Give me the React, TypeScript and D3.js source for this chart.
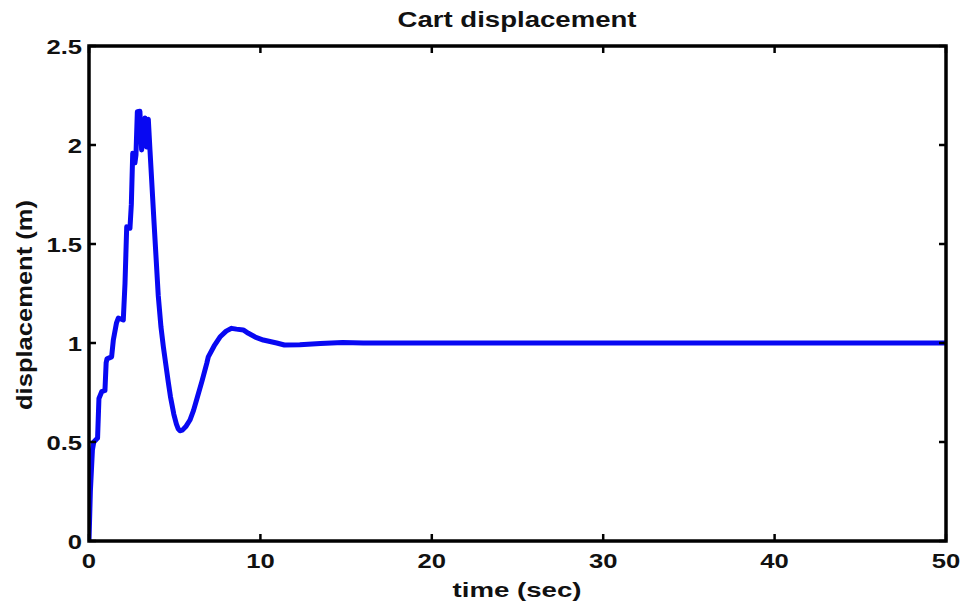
import React from "react";
import * as d3 from "d3";

// Cart displacement response (time in seconds, displacement in metres)
const timeSec = [
  0, 0.08, 0.2, 0.28, 0.5, 0.58, 0.74, 0.93, 1.0, 1.05, 1.32, 1.42, 1.6, 1.71,
  2.0, 2.1, 2.2, 2.39, 2.47, 2.55, 2.68, 2.74, 2.82, 2.97, 3.07, 3.17, 3.27,
  3.37, 3.46, 3.56, 3.8, 4.04, 4.2, 4.34, 4.5, 4.63, 4.75, 4.95, 5.1, 5.2,
  5.31, 5.45, 5.65, 5.89, 6.1, 6.3, 6.6, 6.87, 6.96, 7.3, 7.64, 8.0, 8.32,
  8.6, 9.0, 9.3, 9.7, 10.17, 10.95, 11.4, 12.3, 13.5, 14.8, 16, 20, 30, 40, 50,
];
const displacement = [
  0, 0.25, 0.46, 0.5, 0.52, 0.72, 0.754, 0.76, 0.9, 0.92, 0.93, 1.015, 1.1,
  1.126, 1.116, 1.3, 1.587, 1.58, 1.7, 1.958, 1.91, 1.95, 2.168, 2.17, 1.975,
  2.05, 2.136, 1.99, 2.13, 1.97, 1.6, 1.24, 1.08, 0.98, 0.88, 0.8, 0.73, 0.64,
  0.59, 0.567, 0.557, 0.56, 0.578, 0.611, 0.66, 0.72, 0.81, 0.897, 0.93, 0.985,
  1.03, 1.06, 1.074, 1.07, 1.066, 1.049, 1.03, 1.015, 1.0, 0.99, 0.991, 0.998,
  1.003, 1.0, 1.0, 1.0, 1.0, 1.0,
];

const xTicks = [0, 10, 20, 30, 40, 50];
const yTicks = [0, 0.5, 1, 1.5, 2, 2.5];
const yTickLabels = ["0", "0.5", "1", "1.5", "2", "2.5"];

const W = 968;
const H = 607;
const left = 89;
const right = 946;
const top = 46;
const bottom = 541;
const FONT = "'Liberation Sans', Arial, Helvetica, sans-serif";
const STRETCH = 1.22;

export default function App() {
  const x = d3.scaleLinear().domain([0, 50]).range([left, right]);
  const y = d3.scaleLinear().domain([0, 2.5]).range([bottom, top]);

  const pts = timeSec.map((t, i) => [t, displacement[i]] as [number, number]);
  const line = d3
    .line<[number, number]>()
    .x((d) => x(d[0]))
    .y((d) => y(d[1]))
    .curve(d3.curveLinear);

  const tickLen = 7;

  return (
    <svg
      width={W}
      height={H}
      style={{ position: "absolute", left: 0, top: 0, background: "#fff" }}
      fontFamily={FONT}
      fontWeight="bold"
    >
      <rect width={W} height={H} fill="#fff" />

      {/* data line, clipped to the axes box */}
      <defs>
        <clipPath id="plotClip">
          <rect x={left} y={top} width={right - left} height={bottom - top} />
        </clipPath>
      </defs>
      <path
        d={line(pts) || ""}
        fill="none"
        stroke="#0808f2"
        strokeWidth={5}
        strokeLinejoin="round"
        strokeLinecap="round"
        clipPath="url(#plotClip)"
      />

      {/* ticks on all four sides */}
      {xTicks.map((t) => (
        <g key={"xt" + t} stroke="#000" strokeWidth={2.5}>
          <line x1={x(t)} x2={x(t)} y1={bottom} y2={bottom - tickLen} />
          <line x1={x(t)} x2={x(t)} y1={top} y2={top + tickLen} />
        </g>
      ))}
      {yTicks.map((v) => (
        <g key={"yt" + v} stroke="#000" strokeWidth={2.5}>
          <line x1={left} x2={left + tickLen} y1={y(v)} y2={y(v)} />
          <line x1={right} x2={right - tickLen} y1={y(v)} y2={y(v)} />
        </g>
      ))}

      {/* axes box */}
      <rect
        x={left}
        y={top}
        width={right - left}
        height={bottom - top}
        fill="none"
        stroke="#000"
        strokeWidth={3.5}
      />

      {/* tick labels */}
      {xTicks.map((t) => (
        <g key={"xl" + t} transform={`translate(${x(t)},${568}) scale(${STRETCH},1)`}>
          <text textAnchor="middle" fontSize={21} fill="#111">
            {t}
          </text>
        </g>
      ))}
      {yTicks.map((v, i) => (
        <g key={"yl" + v} transform={`translate(${82},${y(v) + 7.5}) scale(${STRETCH},1)`}>
          <text textAnchor="end" fontSize={21} fill="#111">
            {yTickLabels[i]}
          </text>
        </g>
      ))}

      {/* title and axis labels */}
      <text
        x={517}
        y={27}
        textAnchor="middle"
        fontSize={22}
        textLength={239}
        lengthAdjust="spacingAndGlyphs"
        fill="#111"
      >
        Cart displacement
      </text>
      <text
        x={517}
        y={597}
        textAnchor="middle"
        fontSize={21}
        textLength={129}
        lengthAdjust="spacingAndGlyphs"
        fill="#111"
      >
        time (sec)
      </text>
      <text
        transform={`translate(32,305) rotate(-90)`}
        textAnchor="middle"
        fontSize={22}
        textLength={210}
        lengthAdjust="spacingAndGlyphs"
        fill="#111"
      >
        displacement (m)
      </text>
    </svg>
  );
}
